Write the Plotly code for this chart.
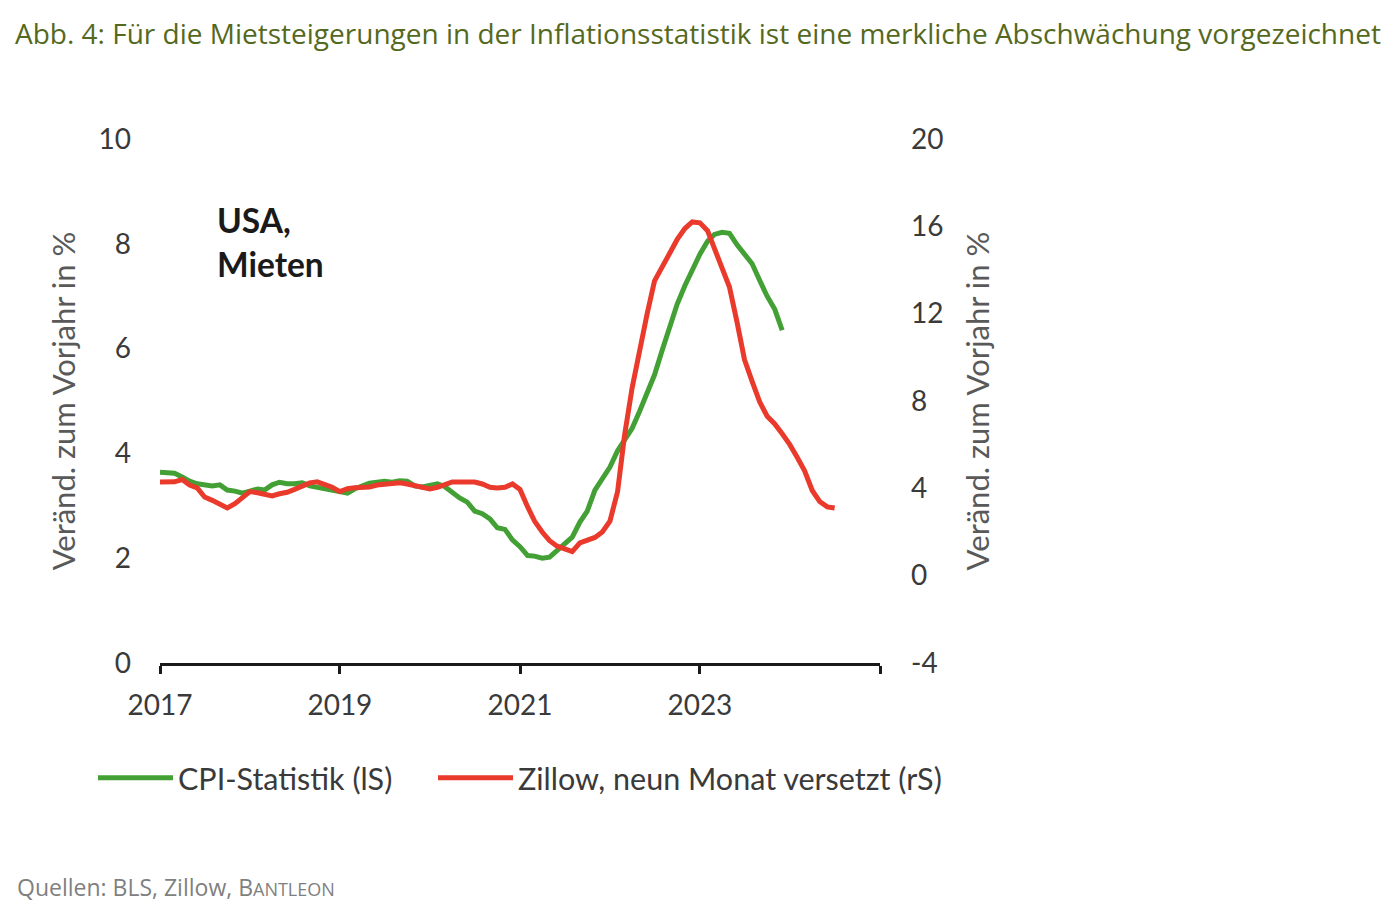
import plotly.graph_objects as go
import pandas as pd

# ---- data (monthly, year-on-year change in %) ----
cpi_start = "2017-01-01"
cpi_values = [
    3.64, 3.62, 3.62, 3.55, 3.47, 3.42, 3.40, 3.38, 3.40, 3.30, 3.28, 3.24,   # 2017
    3.28, 3.32, 3.30, 3.40, 3.45, 3.42, 3.42, 3.44, 3.38, 3.35, 3.34, 3.30,   # 2018
    3.27, 3.24, 3.32, 3.38, 3.43, 3.45, 3.47, 3.45, 3.48, 3.47, 3.38, 3.36,   # 2019
    3.40, 3.42, 3.37, 3.25, 3.15, 3.07, 2.90, 2.85, 2.75, 2.58, 2.55, 2.35,   # 2020
    2.22, 2.05, 2.04, 2.00, 2.02, 2.15, 2.28, 2.40, 2.69, 2.90, 3.30, 3.50,   # 2021
    3.74, 4.05, 4.25, 4.48, 4.80, 5.15, 5.50, 5.97, 6.45, 6.85, 7.20, 7.50,   # 2022
    7.80, 8.05, 8.18, 8.22, 8.20, 7.98, 7.80, 7.62, 7.30, 7.00, 6.75, 6.35,   # 2023
]

zillow_start = "2017-01-01"
zillow_values = [
    4.29, 4.27, 4.30, 4.40, 4.15, 4.02, 3.60, 3.45, 3.25, 3.10, 3.30, 3.60,   # 2017
    3.85, 3.80, 3.70, 3.65, 3.75, 3.82, 3.95, 4.10, 4.25, 4.30, 4.20, 4.05,   # 2018
    3.85, 3.98, 4.03, 4.05, 4.06, 4.15, 4.20, 4.20, 4.25, 4.20, 4.12, 4.05,   # 2019
    3.97, 4.05, 4.18, 4.29, 4.29, 4.29, 4.29, 4.20, 4.05, 4.02, 4.05, 4.20,   # 2020
    3.95, 3.15, 2.50, 2.00, 1.60, 1.35, 1.20, 1.10, 1.50, 1.65, 1.75, 2.00,   # 2021
    2.50, 3.85, 6.40, 8.60, 10.34, 12.00, 13.50, 14.20, 14.78, 15.40, 15.90, 16.20,  # 2022
    16.16, 15.80, 15.00, 14.20, 13.22, 11.60, 9.90, 8.90, 7.95, 7.30, 6.95, 6.50,    # 2023
    6.00, 5.40, 4.80, 3.90, 3.40, 3.15, 3.10,                                  # 2024
]

cpi_dates = pd.date_range(cpi_start, periods=len(cpi_values), freq="MS")
zillow_dates = pd.date_range(zillow_start, periods=len(zillow_values), freq="MS")

x_tick_vals = ["2017-01-01", "2019-01-01", "2021-01-01", "2023-01-01", "2025-01-01"]
x_tick_text = ["2017", "2019", "2021", "2023", ""]
left_ticks = [0, 2, 4, 6, 8, 10]
left_tick_text = ["0", "2", "4", "6", "8", "10"]
right_ticks = [-4, 0, 4, 8, 12, 16, 20]
right_tick_text = ["-4", "0", "4", "8", "12", "16", "20"]

series_names = ["CPI-Statistik (lS)", "Zillow, neun Monat versetzt (rS)"]
title_text = ("Abb. 4: Für die Mietsteigerungen in der Inflationsstatistik "
              "ist eine merkliche Abschwächung vorgezeichnet")
source_text = "Quellen: BLS, Zillow, B<span style='font-size:18px'>ANTLEON</span>"
y_title = "Veränd. zum Vorjahr in %"

# ---- styles ----
GREEN = "#43a035"
RED = "#ea3a2c"
TICK_COLOR = "#3a3a3a"
TITLE_GRAY = "#595959"
FONT = "Lato"
HEAD_FONT = "Open Sans"

# page has an 8px body margin -> figure frame is offset by 8px
W, H = 1388, 904
L, T = 152, 131
PW, PH = 720, 524

fig = go.Figure()
fig.add_trace(go.Scatter(x=cpi_dates, y=cpi_values, mode="lines", name=series_names[0],
                         line=dict(color=GREEN, width=5), yaxis="y", legend="legend"))
fig.add_trace(go.Scatter(x=zillow_dates, y=zillow_values, mode="lines", name=series_names[1],
                         line=dict(color=RED, width=5), yaxis="y2", legend="legend2"))

legend_common = dict(orientation="h", xanchor="left", yanchor="middle",
                     font=dict(size=30.5, color=TICK_COLOR, family=FONT),
                     itemwidth=75, bgcolor="rgba(0,0,0,0)")

fig.update_layout(
    width=W, height=H,
    paper_bgcolor="white", plot_bgcolor="white",
    margin=dict(l=L, r=W - L - PW, t=T, b=H - T - PH, pad=0),
    font=dict(family=FONT, color=TICK_COLOR),
    xaxis=dict(
        type="date", range=["2017-01-01", "2025-01-01"],
        tickmode="array", tickvals=x_tick_vals, ticktext=x_tick_text,
        showgrid=False, zeroline=False,
        showline=True, linecolor="#1a1a1a", linewidth=2.5,
        ticks="outside", ticklen=8, tickwidth=2.5, tickcolor="#1a1a1a",
        tickfont=dict(size=28, color=TICK_COLOR), ticklabelstandoff=8,
    ),
    yaxis=dict(
        range=[0, 10], tickmode="array", tickvals=left_ticks, ticktext=left_tick_text,
        showgrid=False, zeroline=False, showline=False, ticks="",
        tickfont=dict(size=28, color=TICK_COLOR), ticklabelstandoff=28,
        title=dict(text=y_title, font=dict(size=31, color=TITLE_GRAY), standoff=13),
    ),
    yaxis2=dict(
        range=[-4, 20], tickmode="array", tickvals=right_ticks, ticktext=right_tick_text,
        overlaying="y", side="right",
        showgrid=False, zeroline=False, showline=False, ticks="",
        tickfont=dict(size=28, color=TICK_COLOR), ticklabelstandoff=30,
        title=dict(text=y_title, font=dict(size=31, color=TITLE_GRAY), standoff=24),
    ),
    showlegend=True,
    legend=dict(x=(85 - L) / PW, y=-0.2195, **legend_common),
    legend2=dict(x=(425 - L) / PW, y=-0.2195, **legend_common),
    title=dict(text=title_text, x=7 / W, xanchor="left", y=1 - 26 / H, yanchor="middle",
               font=dict(size=28, color="#55691e", family=HEAD_FONT)),
)

fig.add_annotation(text="<b>USA,<br>Mieten</b>", xref="paper", yref="paper",
                   x=(207 - L) / PW, y=(T + PH - 190) / PH, xanchor="left", yanchor="top",
                   align="left", showarrow=False,
                   font=dict(size=33.5, color="#1a1a1a", family=FONT))

fig.add_annotation(text=source_text, xref="paper", yref="paper",
                   x=(7 - L) / PW, y=(T + PH - 879) / PH, xanchor="left", yanchor="middle",
                   align="left", showarrow=False,
                   font=dict(size=23, color="#7f7f7f", family=HEAD_FONT))

fig.write_html("out.html")
